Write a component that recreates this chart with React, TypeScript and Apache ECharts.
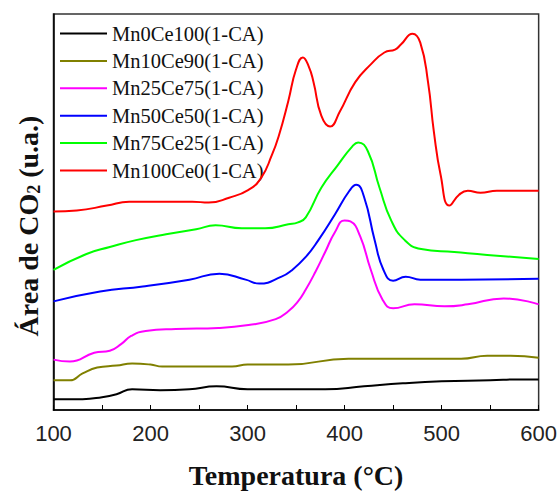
import React, { useEffect, useRef } from "react";
import * as echarts from "echarts";

const seriesNames = [
  "Mn0Ce100(1-CA)",
  "Mn10Ce90(1-CA)",
  "Mn25Ce75(1-CA)",
  "Mn50Ce50(1-CA)",
  "Mn75Ce25(1-CA)",
  "Mn100Ce0(1-CA)",
];
const seriesColors = ["#000000", "#808000", "#ff00ff", "#0000ff", "#00ff00", "#ff0000"];

const xTicks = [100, 200, 300, 400, 500, 600];

const tMn0 = [100, 130, 150, 165, 181, 210, 240, 268, 300, 340, 380, 420, 460, 500, 550, 580, 600];
const vMn0 = [11, 11, 13, 16, 21, 20, 21, 24, 21, 21, 21, 24, 27, 29, 30, 31, 31];

const tMn10 = [100, 117, 130, 145, 165, 181, 200, 212, 284, 300, 342, 404, 445, 520, 547, 571, 600];
const vMn10 = [30, 30, 37, 43, 45, 47, 46, 44, 44, 46, 46, 52, 52, 52, 55, 55, 53];

const tMn25 = [100, 117, 142, 158, 170, 180, 195, 226, 270, 301, 329, 342, 352, 360, 370, 380, 390, 400, 406, 416, 427, 439, 450, 472, 503, 527, 564, 600];
const vMn25 = [51, 49, 58, 60, 67, 75, 80, 82, 83, 86, 92, 100, 110, 122, 140, 160, 180, 192, 191, 176, 142, 112, 103, 107, 105, 107, 113, 107];

const tMn50 = [100, 148, 192, 240, 271, 298, 312, 335, 345, 360, 373, 390, 405, 412, 420, 431, 440, 450, 463, 478, 520, 600];
const vMn50 = [110, 120, 125, 132, 138, 132, 128, 135, 141, 155, 172, 198, 222, 228, 216, 172, 142, 131, 135, 132, 132, 133];

const tMn75 = [100, 134, 158, 185, 216, 247, 267, 294, 318, 342, 352, 360, 376, 393, 408, 414, 424, 436, 448, 462, 479, 513, 547, 600];
const vMn75 = [142, 158, 165, 172, 178, 183, 187, 184, 184, 188, 190, 195, 225, 248, 267, 271, 262, 225, 192, 172, 163, 160, 157, 153];

const tMn100 = [100, 124, 155, 178, 243, 260, 281, 301, 314, 325, 332, 342, 350, 357, 363, 368, 376, 385, 395, 411, 427, 441, 452, 458, 470, 478, 486, 492, 499, 508, 518, 527, 540, 557, 600];
const vMn100 = [201, 202, 207, 211, 211, 210, 215, 223, 235, 258, 277, 313, 345, 357, 348, 332, 298, 287, 302, 332, 350, 362, 365, 370, 381, 372, 332, 282, 238, 207, 218, 222, 220, 222, 222];

const allT = [tMn0, tMn10, tMn25, tMn50, tMn75, tMn100];
const allV = [vMn0, vMn10, vMn25, vMn50, vMn75, vMn100];

export default function App() {
  const ref = useRef<HTMLDivElement>(null);
  useEffect(() => {
    if (!ref.current) return;
    const chart = echarts.init(ref.current, null, { renderer: "svg" });
    const series = seriesNames.map((name, i) => ({
      name,
      type: "line",
      data: allT[i].map((t, j) => [t, allV[i][j]]),
      smooth: 0.5,
      showSymbol: false,
      symbol: "none",
      lineStyle: { color: seriesColors[i], width: 2 },
      itemStyle: { color: seriesColors[i] },
      z: 2 + i,
    }));
    chart.setOption({
      animation: false,
      backgroundColor: "#ffffff",
      grid: {
        left: 53.5,
        right: 18.5,
        top: 14,
        bottom: 79,
        show: true,
        borderColor: "#333333",
        borderWidth: 1.5,
        backgroundColor: "transparent",
      },
      legend: {
        orient: "vertical",
        left: 60,
        top: 23,
        padding: 0,
        itemWidth: 47,
        itemHeight: 2,
        itemGap: 6.4,
        icon: "rect",
        data: seriesNames,
        textStyle: {
          fontFamily: "Liberation Serif",
          fontSize: 20.5,
          color: "#111111",
          lineHeight: 20.5,
        },
      },
      xAxis: {
        type: "value",
        min: 100,
        max: 600,
        interval: 100,
        name: "Temperatura (°C)",
        nameLocation: "middle",
        nameGap: 65,
        nameTextStyle: {
          fontFamily: "Liberation Serif",
          fontWeight: "bold",
          fontSize: 28,
          color: "#111111",
          verticalAlign: "middle",
        },
        axisLine: { show: true, onZero: false, lineStyle: { color: "#000000", width: 1.5 } },
        axisTick: { show: true, inside: true, length: 5, lineStyle: { color: "#000000", width: 1 } },
        minorTick: { show: true, splitNumber: 2, length: 5, lineStyle: { color: "#000000", width: 1 } },
        splitLine: { show: false },
        axisLabel: {
          fontFamily: "Liberation Sans",
          fontSize: 22,
          color: "#222222",
          margin: 12,
          formatter: (v: number) => (xTicks.includes(v) ? String(v) : ""),
        },
      },
      yAxis: {
        type: "value",
        min: 0,
        max: 401,
        axisLine: { show: true, onZero: false, lineStyle: { color: "#000000", width: 1.5 } },
        axisTick: { show: false },
        axisLabel: { show: false },
        splitLine: { show: false },
      },
      graphic: [
        {
          type: "text",
          x: 28,
          y: 226,
          rotation: Math.PI / 2,
          style: {
            text: "Área de CO{s|2} (u.a.)",
            fontFamily: "Liberation Serif",
            fontWeight: "bold",
            fontSize: 28,
            fill: "#111111",
            align: "center",
            verticalAlign: "middle",
            rich: {
              s: {
                fontFamily: "Liberation Serif",
                fontWeight: "bold",
                fontSize: 18,
                fill: "#111111",
                padding: [12, 0, 0, 0],
              },
            },
          },
        },
      ],
      series,
    });
    return () => chart.dispose();
  }, []);
  return <div ref={ref} style={{ width: 560, height: 494, position: "absolute", left: 0, top: 0 }} />;
}
